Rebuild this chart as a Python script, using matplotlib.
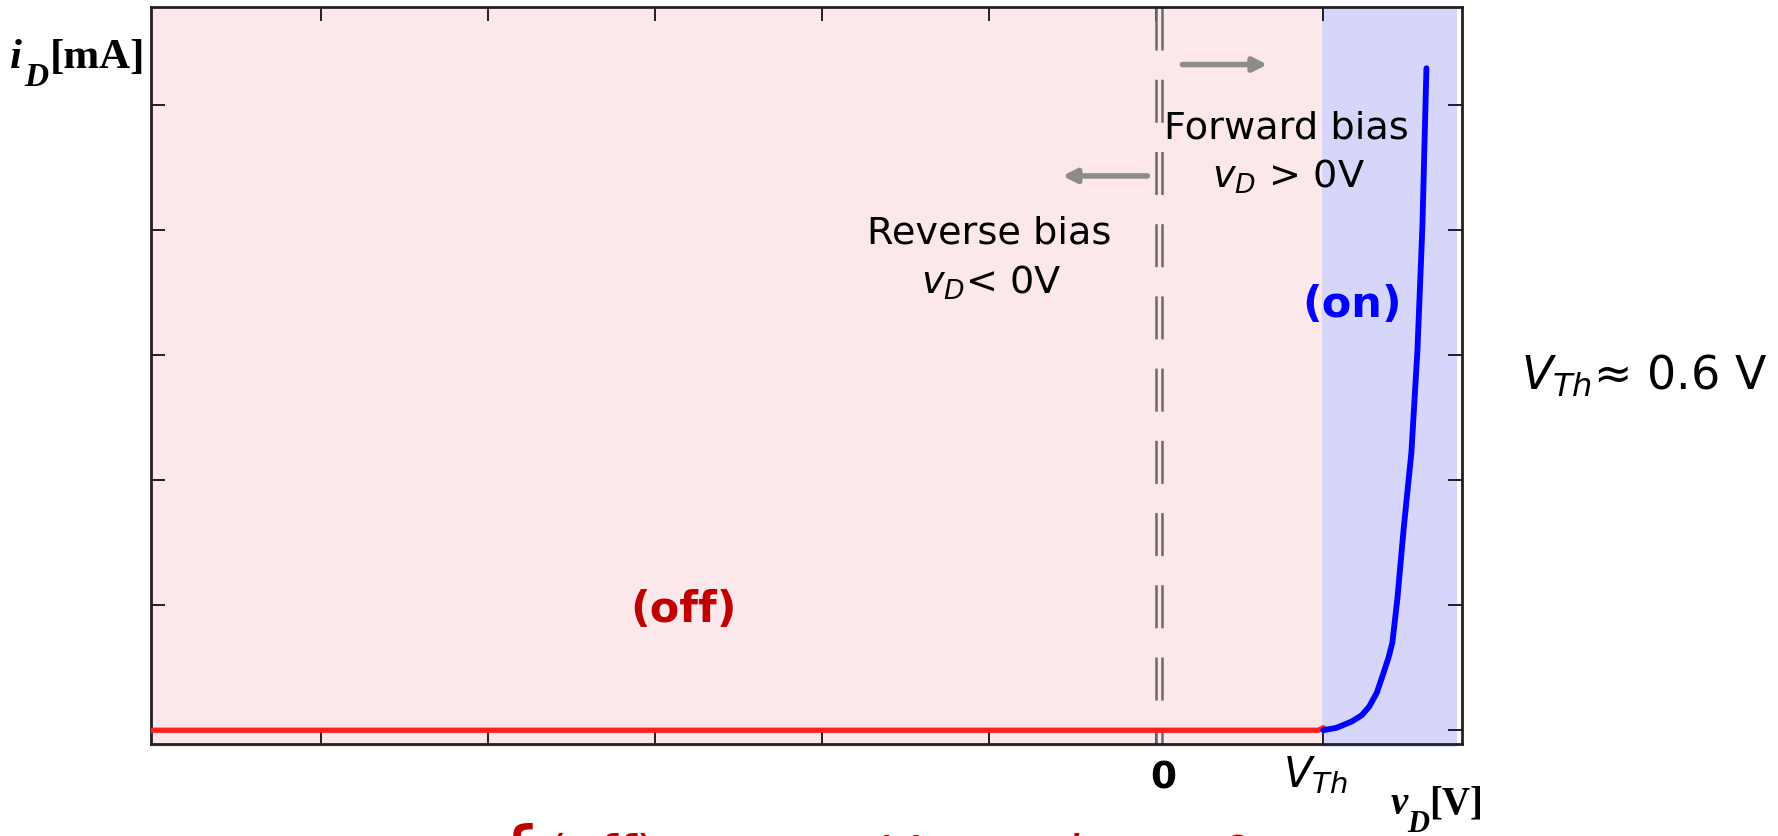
# -*- coding: utf-8 -*-
"""
Diode i-v characteristic, on/off regions
"""
import matplotlib
matplotlib.use("Agg")
import matplotlib.pyplot as plt

### Data ###
x_lim = [-6.02, 1.83]
y_lim = [-0.11, 5.78]
x_ticks = [-5, -4, -3, -2, -1, 0, 1]
y_ticks = [0, 1, 2, 3, 4, 5]
v_th = 1.0

# off branch (red) and on branch (blue)
off_v = [-6.02, 0.97, 1.0]
off_i = [0.0, 0.0, 0.02]
on_v = [1.0, 1.08, 1.17, 1.23, 1.275, 1.32, 1.353, 1.39, 1.413, 1.443, 1.48, 1.527, 1.563, 1.593, 1.617]
on_i = [0.0, 0.02, 0.07, 0.12, 0.19, 0.30, 0.43, 0.58, 0.70, 1.05, 1.60, 2.22, 3.03, 4.03, 5.29]

# shaded regions
off_region = [-6.02, 1.0]
on_region = [0.99, 1.80]
region_y = [-0.135, 5.77]

pink = "#fce8ea"
lilac = "#d6d6fb"
red = "#ff1f1f"
dark_red = "#c00000"
blue = "#0000ff"
grey = "#8c8c8c"

plt.rcParams["font.family"] = ["DejaVu Sans"]
plt.rcParams["mathtext.fontset"] = "dejavusans"
plt.rcParams["lines.scale_dashes"] = False

W, H = 1778, 837
fig = plt.figure(figsize=(W / 100, H / 100), dpi=100)
ax = fig.add_axes([151 / W, 1 - 745 / H, (1462 - 151) / W, (745 - 8) / H])
ax.set_xlim(x_lim)
ax.set_ylim(y_lim)

# background regions
ax.fill_between(off_region, region_y[0], y_lim[1], color=pink, lw=0, zorder=0, clip_on=False)
ax.fill_between(on_region, region_y[0], region_y[1], color=lilac, lw=0, zorder=0.5, clip_on=False)

# double dashed line at v=0
for xv in [0.0, 0.036]:
    ax.plot([xv, xv], [y_lim[1], y_lim[0]], color="#6a6a6a", lw=1.8, dashes=(31, 21), zorder=2)

# characteristic
ax.plot(off_v, off_i, color=red, lw=3.8, solid_capstyle="round", zorder=3)
ax.plot(on_v, on_i, color=blue, lw=4.2, solid_capstyle="round", zorder=3)

# arrows
arrow = dict(arrowstyle="-|>,head_length=0.8,head_width=0.4", color=grey, lw=4, shrinkA=0, shrinkB=0)
ax.annotate("", xy=(0.665, 5.32), xytext=(0.156, 5.32), arrowprops=arrow)
ax.annotate("", xy=(-0.563, 4.43), xytext=(-0.054, 4.43), arrowprops=arrow)

# labels inside the plot
ax.text(0.78, 4.74, "Forward bias", fontsize=27.5, ha="center", va="baseline", zorder=4)
ax.text(0.79, 4.34, r"$v_D$ > 0V", fontsize=27.5, ha="center", va="baseline", zorder=4)
ax.text(-1.0, 3.90, "Reverse bias", fontsize=27.5, ha="center", va="baseline", zorder=4)
ax.text(-0.99, 3.50, r"$v_D$< 0V", fontsize=27.5, ha="center", va="baseline", zorder=4)
ax.text(1.17, 3.41, "(on)", fontsize=31, fontweight="bold", color=blue, ha="center", va="center", zorder=4)
ax.text(-2.83, 0.97, "(off)", fontsize=31, fontweight="bold", color=dark_red, ha="center", va="center", zorder=4)

# ticks, inward on all sides, no default labels
ax.set_xticks(x_ticks)
ax.set_yticks(y_ticks)
ax.set_xticklabels([])
ax.set_yticklabels([])
ax.tick_params(direction="in", length=10, width=1.4, color="#231f20",
               top=True, right=True, bottom=True, left=True)
for s in ax.spines.values():
    s.set_linewidth(2)
    s.set_color("#231f20")

# x tick labels drawn by hand (different sizes)
tr = ax.get_xaxis_transform()
ax.text(0.04, -0.021, "0", transform=tr, fontsize=27, fontweight="bold", ha="center", va="top")
ax.text(0.95, -0.012, r"$V_{Th}$", transform=tr, fontsize=30, ha="center", va="top")


def px(x, y):
    return x / W, 1 - y / H


# axis titles in bold serif
serif = "Liberation Serif"
fig.text(*px(10, 68), "i", family=serif, fontsize=31, fontweight="bold", style="italic", va="baseline")
fig.text(*px(24, 86), "D", family=serif, fontsize=24, fontweight="bold", style="italic", va="baseline")
fig.text(*px(50, 68), "[mA]", family=serif, fontsize=31, fontweight="bold", va="baseline")

fig.text(*px(1391, 814), "v", family=serif, fontsize=28, fontweight="bold", style="italic", va="baseline")
fig.text(*px(1407, 832), "D", family=serif, fontsize=22, fontweight="bold", style="italic", va="baseline")
fig.text(*px(1429, 814), "[V]", family=serif, fontsize=28, fontweight="bold", va="baseline")

# threshold note
fig.text(*px(1521, 390), r"$V_{Th}$≈ 0.6 V", fontsize=33, va="baseline")

# bottom line, mostly cut off by the figure edge
fig.text(*px(490, 823), "{", fontsize=60, color=dark_red, va="top")
fig.text(*px(546, 832), r"(off)    $v_D$ <  $V_{Th}$  :   $i_D$  =  0", fontsize=38, color=dark_red, va="top")

fig.savefig("out.png", dpi=100)
